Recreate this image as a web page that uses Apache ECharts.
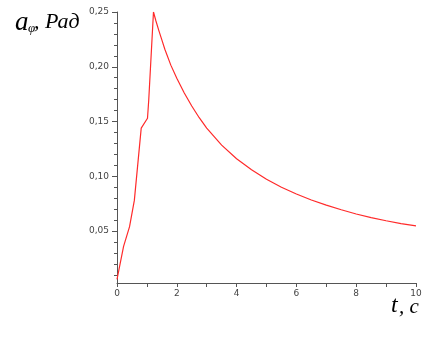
<!DOCTYPE html>
<html>
<head>
<meta charset="utf-8">
<script src="https://cdn.jsdelivr.net/npm/echarts@6/dist/echarts.min.js"></script>
<style>html,body{margin:0;padding:0;background:#fff;}#c{width:428px;height:338px;}</style>
</head>
<body>
<div id="c"></div>
<script>
var tValues = [0, 0.22, 0.42, 0.58, 0.81, 1.02, 1.06, 1.22, 1.3, 1.4, 1.5, 1.6, 1.8, 2.0, 2.25, 2.5, 2.75, 3.0, 3.5, 4.0, 4.5, 5.0, 5.5, 6.0, 6.5, 7.0, 7.5, 8.0, 8.5, 9.0, 9.5, 10.0];
var aValues = [0.006, 0.036, 0.054, 0.078, 0.144, 0.153, 0.169, 0.25, 0.242, 0.233, 0.2245, 0.216, 0.2015, 0.1895, 0.176, 0.1642, 0.1535, 0.144, 0.1285, 0.116, 0.106, 0.0973, 0.090, 0.0838, 0.0784, 0.0737, 0.0695, 0.0656, 0.0623, 0.0594, 0.0568, 0.0547];
var yTickLabels = [0.05, 0.10, 0.15, 0.20, 0.25];
var yMinorTicks = [0.01, 0.02, 0.03, 0.04, 0.06, 0.07, 0.08, 0.09, 0.11, 0.12, 0.13, 0.14, 0.16, 0.17, 0.18, 0.19, 0.21, 0.22, 0.23, 0.24];
var xTickLabels = [0, 2, 4, 6, 8, 10];

var data = tValues.map(function (t, i) { return [t, aValues[i]]; });
var axisColor = '#555';
var labelStyle = { color: '#444', fontSize: 9, fontFamily: 'DejaVu Sans' };
var chart = echarts.init(document.getElementById('c'), null, { renderer: 'canvas' });
chart.setOption({
  animation: false,
  backgroundColor: '#fff',
  grid: { left: 117, right: 12, top: 12, bottom: 55, containLabel: false },
  xAxis: {
    type: 'value', min: 0, max: 10, interval: 2,
    axisLine: { show: true, onZero: false, lineStyle: { color: axisColor, width: 1 } },
    axisTick: { show: true, length: 4, lineStyle: { color: axisColor } },
    minorTick: { show: true, splitNumber: 2, length: 4, lineStyle: { color: axisColor } },
    axisLabel: Object.assign({ margin: 6, formatter: function (v) { return String(v); } }, labelStyle),
    splitLine: { show: false }, minorSplitLine: { show: false }
  },
  yAxis: [{
    type: 'value', min: 0.0026, max: 0.25,
    axisLine: { show: true, onZero: false, lineStyle: { color: axisColor, width: 1 } },
    axisTick: { show: true, length: 5, customValues: yTickLabels, lineStyle: { color: axisColor } },
    axisLabel: Object.assign({
      margin: 8, customValues: yTickLabels,
      formatter: function (v) { return v.toFixed(2).replace('.', ','); }
    }, labelStyle),
    splitLine: { show: false }
  }, {
    type: 'value', min: 0.0026, max: 0.25, position: 'left',
    axisLine: { show: false },
    axisTick: { show: true, length: 3, customValues: yMinorTicks, lineStyle: { color: axisColor } },
    axisLabel: { show: false },
    splitLine: { show: false }
  }],
  series: [{
    type: 'line', data: data, showSymbol: false, symbol: 'none', smooth: false,
    lineStyle: { color: '#ff2a2a', width: 1.2 }, yAxisIndex: 0
  }],
  graphic: [
    { type: 'text', left: 15, top: 9, style: { text: 'a', font: 'italic 27px "Liberation Serif"', fill: '#000' } },
    { type: 'text', left: 28, top: 22, style: { text: 'φ', font: 'italic 13px "Liberation Serif"', fill: '#000' } },
    { type: 'text', left: 34, top: 11, style: { text: ', Рад', font: 'italic 22px "Liberation Serif"', fill: '#000' } },
    { type: 'text', left: 391, top: 294, style: { text: 't', font: 'italic 24px "Liberation Serif"', fill: '#000' } },
    { type: 'text', left: 399, top: 297, style: { text: ', c', font: 'italic 21px "Liberation Serif"', fill: '#000' } }
  ]
});
</script>
</body>
</html>
